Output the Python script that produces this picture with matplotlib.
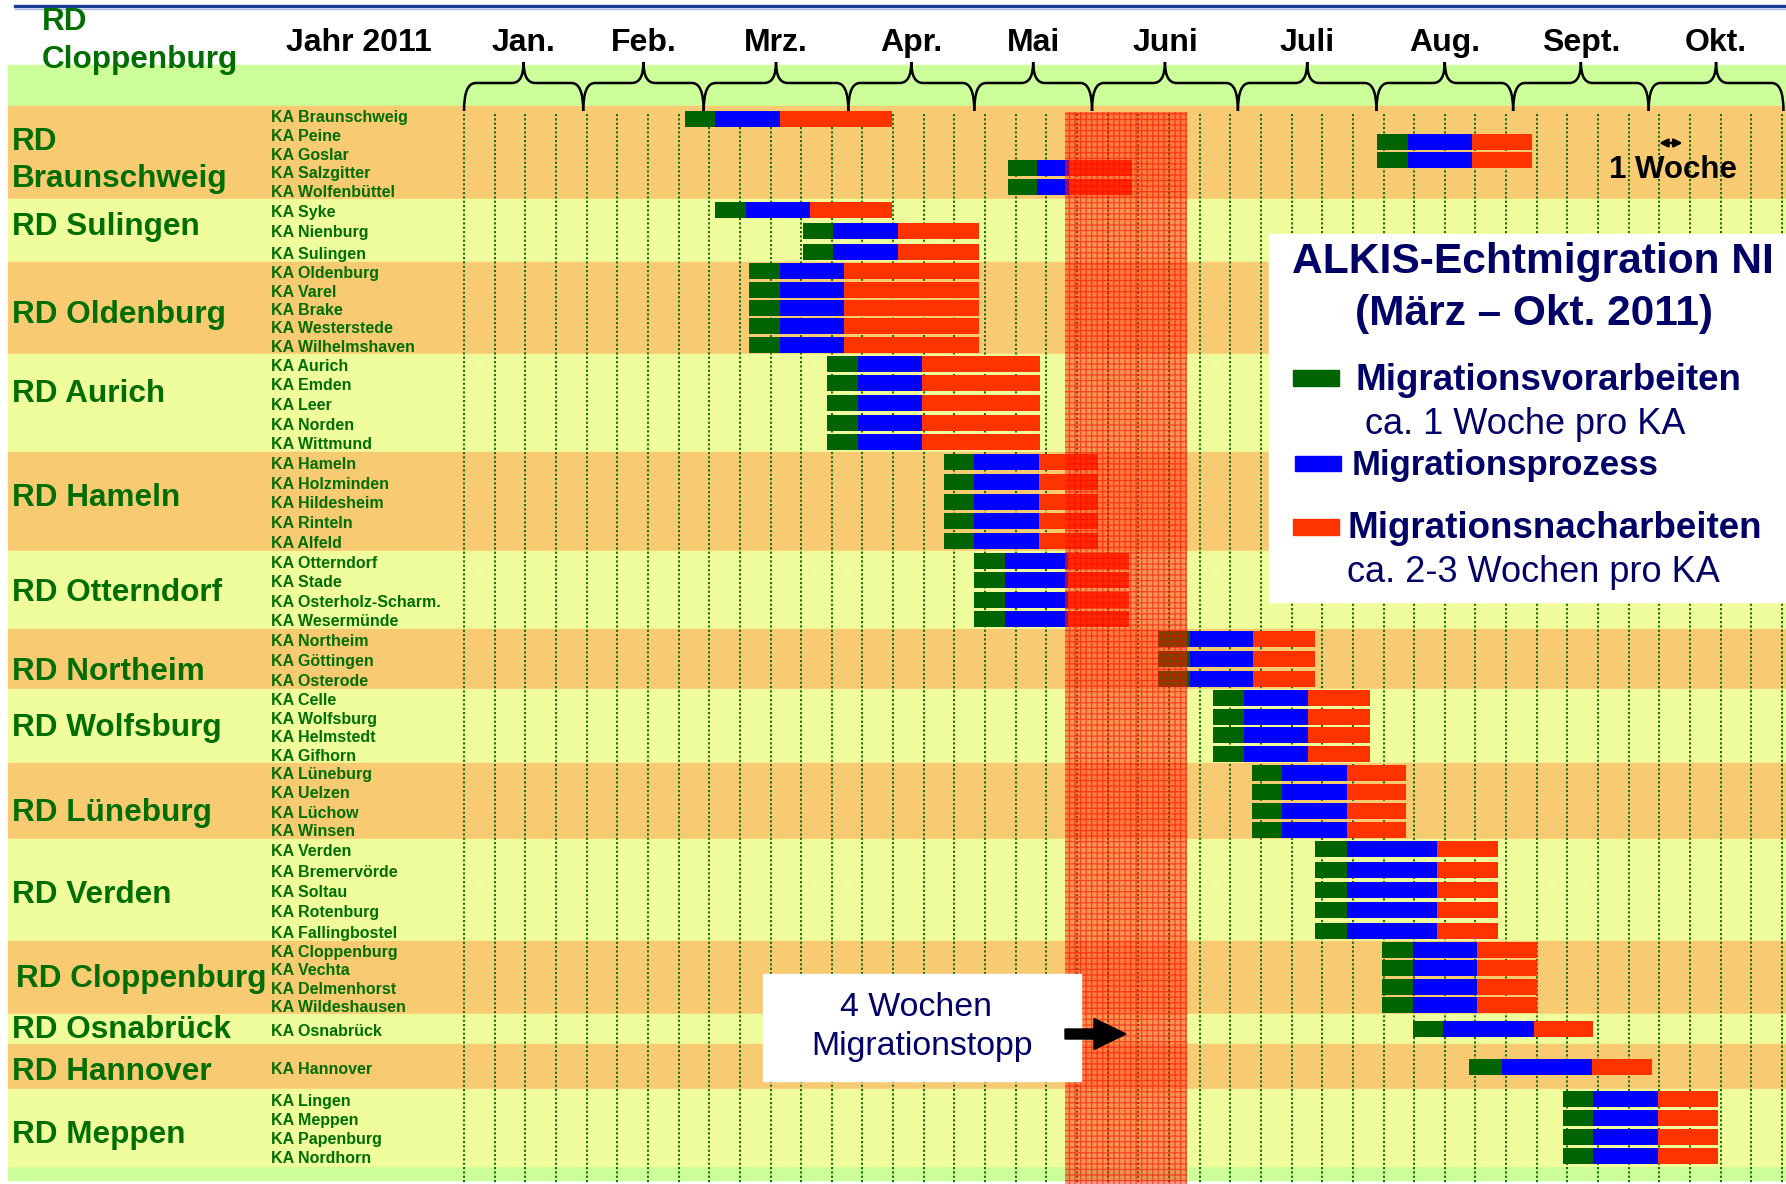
import matplotlib
matplotlib.use('Agg')
import matplotlib.pyplot as plt
from matplotlib.patches import Rectangle, PathPatch, FancyArrow
from matplotlib.path import Path

plt.rcParams['font.family'] = ['Liberation Sans', 'DejaVu Sans']
plt.rcParams['hatch.linewidth'] = 0.9

# ---- Daten (Zeitangaben in Wochen ab 1. Januar 2011) ----
months = ['Jan.', 'Feb.', 'Mrz.', 'Apr.', 'Mai', 'Juni', 'Juli', 'Aug.', 'Sept.', 'Okt.']
month_edges = [0, 3.89, 7.82, 12.54, 16.65, 20.49, 25.25, 29.77, 34.23, 38.65, 43.05]

districts = ['RD\nBraunschweig', 'RD Sulingen', 'RD Oldenburg', 'RD Aurich', 'RD Hameln',
             'RD Otterndorf', 'RD Northeim', 'RD Wolfsburg', 'RD Lüneburg', 'RD Verden',
             'RD Cloppenburg', 'RD Osnabrück', 'RD Hannover', 'RD Meppen']
kas = [
    ['KA Braunschweig', 'KA Peine', 'KA Goslar', 'KA Salzgitter', 'KA Wolfenbüttel'],
    ['KA Syke', 'KA Nienburg', 'KA Sulingen'],
    ['KA Oldenburg', 'KA Varel', 'KA Brake', 'KA Westerstede', 'KA Wilhelmshaven'],
    ['KA Aurich', 'KA Emden', 'KA Leer', 'KA Norden', 'KA Wittmund'],
    ['KA Hameln', 'KA Holzminden', 'KA Hildesheim', 'KA Rinteln', 'KA Alfeld'],
    ['KA Otterndorf', 'KA Stade', 'KA Osterholz-Scharm.', 'KA Wesermünde'],
    ['KA Northeim', 'KA Göttingen', 'KA Osterode'],
    ['KA Celle', 'KA Wolfsburg', 'KA Helmstedt', 'KA Gifhorn'],
    ['KA Lüneburg', 'KA Uelzen', 'KA Lüchow', 'KA Winsen'],
    ['KA Verden', 'KA Bremervörde', 'KA Soltau', 'KA Rotenburg', 'KA Fallingbostel'],
    ['KA Cloppenburg', 'KA Vechta', 'KA Delmenhorst', 'KA Wildeshausen'],
    ['KA Osnabrück'],
    ['KA Hannover'],
    ['KA Lingen', 'KA Meppen', 'KA Papenburg', 'KA Nordhorn'],
]

# Startwoche und Dauer der drei Phasen je KA (gleiche Reihenfolge wie oben)
start = [7.2, 29.8, 29.8, 17.75, 17.75,
         8.2, 11.05, 11.05,
         9.3, 9.3, 9.3, 9.3, 9.3,
         11.85, 11.85, 11.85, 11.85, 11.85,
         15.65, 15.65, 15.65, 15.65, 15.65,
         16.65, 16.65, 16.65, 16.65,
         22.65, 22.65, 22.65,
         24.45, 24.45, 24.45, 24.45,
         25.7, 25.7, 25.7, 25.7,
         27.75, 27.75, 27.75, 27.75, 27.75,
         29.95, 29.95, 29.95, 29.95,
         30.95,
         32.8,
         35.85, 35.85, 35.85, 35.85]
vorarbeit = [1.0, 1.0, 1.0, 0.95, 0.95,
             1.0, 1.0, 1.0,
             1.0, 1.0, 1.0, 1.0, 1.0,
             1.0, 1.0, 1.0, 1.0, 1.0,
             1.0, 1.0, 1.0, 1.0, 1.0,
             1.0, 1.0, 1.0, 1.0,
             1.05, 1.05, 1.05,
             1.0, 1.0, 1.0, 1.0,
             1.0, 1.0, 1.0, 1.0,
             1.05, 1.05, 1.05, 1.05, 1.05,
             1.0, 1.0, 1.0, 1.0,
             1.0,
             1.05,
             1.0, 1.0, 1.0, 1.0]
prozess = [2.1, 2.1, 2.1, 1.05, 1.05,
           2.1, 2.1, 2.1,
           2.1, 2.1, 2.1, 2.1, 2.1,
           2.1, 2.1, 2.1, 2.1, 2.1,
           2.1, 2.1, 2.1, 2.1, 2.1,
           2.05, 2.05, 2.05, 2.05,
           2.05, 2.05, 2.05,
           2.1, 2.1, 2.1, 2.1,
           2.1, 2.1, 2.1, 2.1,
           2.95, 2.95, 2.95, 2.95, 2.95,
           2.1, 2.1, 2.1, 2.1,
           2.95,
           2.95,
           2.1, 2.1, 2.1, 2.1]
nacharbeit = [3.65, 1.95, 1.95, 2.05, 2.05,
              2.65, 2.65, 2.65,
              4.4, 4.4, 4.4, 4.4, 4.4,
              3.85, 3.85, 3.85, 3.85, 3.85,
              1.95, 1.95, 1.95, 1.95, 1.95,
              2.0, 2.0, 2.0, 2.0,
              2.0, 2.0, 2.0,
              2.0, 2.0, 2.0, 2.0,
              1.95, 1.95, 1.95, 1.95,
              2.0, 2.0, 2.0, 2.0, 2.0,
              1.95, 1.95, 1.95, 1.95,
              1.95,
              1.95,
              1.95, 1.95, 1.95, 1.95]
stop_start, stop_end = 19.6, 23.6   # 4 Wochen Migrationsstopp

# ---- Layout (Pixel der Folie) ----
X0, W = 464, 30.65            # Pixel der Woche 0, Pixel pro Woche
band_edges = [106, 199, 262, 354, 452, 551, 629, 689, 763, 839, 941, 1014, 1044, 1089, 1166]
rd_dy = [8, -4, 7, -9, -3, 3, 13, 2, 12, 5, 1.5, 1, 6, 7.5]
bar_shift = {'KA Braunschweig': 0.22, 'KA Peine': 0.43, 'KA Goslar': 0.43,
             'KA Salzgitter': -0.14, 'KA Wolfenbüttel': -0.13}
c_orange, c_yellow, c_green = '#F8CB72', '#EFFD9C', '#CCFF99'
c_text = '#006E00'
navy = '#000066'
col_vor, col_proz, col_nach = '#006400', '#0000FF', '#FF3300'
bar_h = 16

fig = plt.figure(figsize=(17.86, 11.84), dpi=100)
ax = fig.add_axes([0, 0, 1, 1])
ax.set_xlim(-X0 / W, (1786 - X0) / W)
ax.set_ylim(1184, 0)
ax.axis('off')
ov = fig.add_axes([0, 0, 1, 1])
ov.set_xlim(0, 1786)
ov.set_ylim(1184, 0)
ov.axis('off')
ov.patch.set_alpha(0)

left = (8 - X0) / W
right = (1786 - X0) / W

# Kopfzeile
ax.add_patch(Rectangle((left, 65), right - left, 41, color=c_green, zorder=0))
ax.add_patch(Rectangle((left, band_edges[-1]), right - left, 14, color=c_green, zorder=0))
ov.plot([15, 1786], [6, 6], color='#1c3b93', lw=2.4)
ov.plot([15, 1786], [8.5, 8.5], color='#aab8e2', lw=1.0)
ov.text(42, 41, 'RD\nCloppenburg', color=c_text, fontsize=22.7, fontweight='bold',
        va='center', ha='left', linespacing=1.38)
ov.text(359, 43, 'Jahr 2011', fontsize=23, fontweight='bold', ha='center', va='center')

# Monatsklammern
yb, ym, yt, r = 111, 83, 62, 0.38
for name, a, b in zip(months, month_edges[:-1], month_edges[1:]):
    c = (a + b) / 2
    verts = [(a, yb), (a, ym), (a + r, ym), (c - r, ym), (c, ym), (c, yt),
             (c, ym), (c + r, ym), (b - r, ym), (b, ym), (b, yb)]
    codes = [Path.MOVETO, Path.CURVE3, Path.CURVE3, Path.LINETO, Path.CURVE3, Path.CURVE3,
             Path.CURVE3, Path.CURVE3, Path.LINETO, Path.CURVE3, Path.CURVE3]
    ax.add_patch(PathPatch(Path(verts, codes), fc='none', ec='black', lw=1.8, zorder=5))
    ax.text(c, 43, name, fontsize=23, fontweight='bold', ha='center', va='center')

# Bänder, Beschriftungen und Balken
i = 0
for d, (rd, names) in enumerate(zip(districts, kas)):
    top, bot = band_edges[d], band_edges[d + 1]
    ax.add_patch(Rectangle((left, top), right - left, bot - top,
                           color=c_orange if d % 2 == 0 else c_yellow, zorder=0))
    ov.text(16 if rd == 'RD Cloppenburg' else 12, (top + bot) / 2 + rd_dy[d], rd,
            color=c_text, fontsize=22.7, fontweight='bold', va='center', ha='left',
            linespacing=1.28)
    rh = (bot - top) / len(names)
    for k, ka in enumerate(names):
        yc = top + (k + 0.5) * rh
        ov.text(271, yc + 2.5, ka, color=c_text, fontsize=11.5, fontweight='bold',
                va='center', ha='left')
        yb_ = yc + bar_shift.get(ka, 0) * rh
        s = start[i]
        ax.barh(yb_, vorarbeit[i], left=s, height=bar_h, color=col_vor, zorder=3)
        ax.barh(yb_, prozess[i], left=s + vorarbeit[i], height=bar_h, color=col_proz, zorder=3)
        ax.barh(yb_, nacharbeit[i], left=s + vorarbeit[i] + prozess[i], height=bar_h,
                color=col_nach, zorder=3)
        i += 1

# Wochenraster
for wk in range(0, 44):
    ax.plot([wk, wk], [114, 1184], color='#006600', lw=1.3, ls=(0, (1.2, 1.2)), zorder=2)

# Migrationsstopp
ax.add_patch(Rectangle((stop_start, 112), stop_end - stop_start, 1184 - 112,
                       fc=(1, 0.15, 0.0, 0.48), ec='none', zorder=4))
ax.add_patch(Rectangle((stop_start, 112), stop_end - stop_start, 1184 - 112,
                       fc='none', ec=(1, 0, 0, 0.55), lw=0, hatch='+++', zorder=4))

# 1 Woche
ax.annotate('', xy=(39.85, 143), xytext=(38.9, 143),
            arrowprops=dict(arrowstyle='<|-|>', lw=1.8, color='black', mutation_scale=12),
            zorder=6)
ov.text(1673, 170, '1 Woche', fontsize=22.5, fontweight='bold', ha='center', va='center')

# Legende
ov.add_patch(Rectangle((1269, 234), 517, 368, color='white', zorder=6))
ov.text(1533, 262, 'ALKIS-Echtmigration NI', color=navy, fontsize=30.6, fontweight='bold',
        ha='center', va='center', zorder=7)
ov.text(1534, 314, '(März – Okt. 2011)', color=navy, fontsize=30.5, fontweight='bold',
        ha='center', va='center', zorder=7)
ov.add_patch(Rectangle((1293, 370), 46, 15.5, color=col_vor, zorder=7))
ov.text(1355, 380, 'Migrationsvorarbeiten', color=navy, fontsize=26.5, fontweight='bold',
        ha='left', va='center', zorder=7)
ov.text(1365, 425, 'ca. 1 Woche pro KA', color=navy, fontsize=26, ha='left', va='center',
        zorder=7)
ov.add_patch(Rectangle((1295, 456), 46, 15, color=col_proz, zorder=7))
ov.text(1352, 466, 'Migrationsprozess', color=navy, fontsize=25, fontweight='bold',
        ha='left', va='center', zorder=7)
ov.add_patch(Rectangle((1293, 519), 46, 15.5, color=col_nach, zorder=7))
ov.text(1347, 528, 'Migrationsnacharbeiten', color=navy, fontsize=26.5, fontweight='bold',
        ha='left', va='center', zorder=7)
ov.text(1347, 573, 'ca. 2-3 Wochen pro KA', color=navy, fontsize=26, ha='left', va='center',
        zorder=7)

# Hinweis Migrationsstopp
ov.add_patch(Rectangle((763, 974), 318, 107, color='white', zorder=6))
ov.text(916, 1008, '4 Wochen', color=navy, fontsize=24.4, ha='center', va='center', zorder=7)
ov.text(922, 1046, 'Migrationstopp', color=navy, fontsize=24.4, ha='center', va='center',
        zorder=7)
ov.add_patch(FancyArrow(1065, 1034, 61, 0, width=10, head_width=31, head_length=32,
                        length_includes_head=True, color='black', zorder=7))

fig.savefig('out.png', dpi=100)
